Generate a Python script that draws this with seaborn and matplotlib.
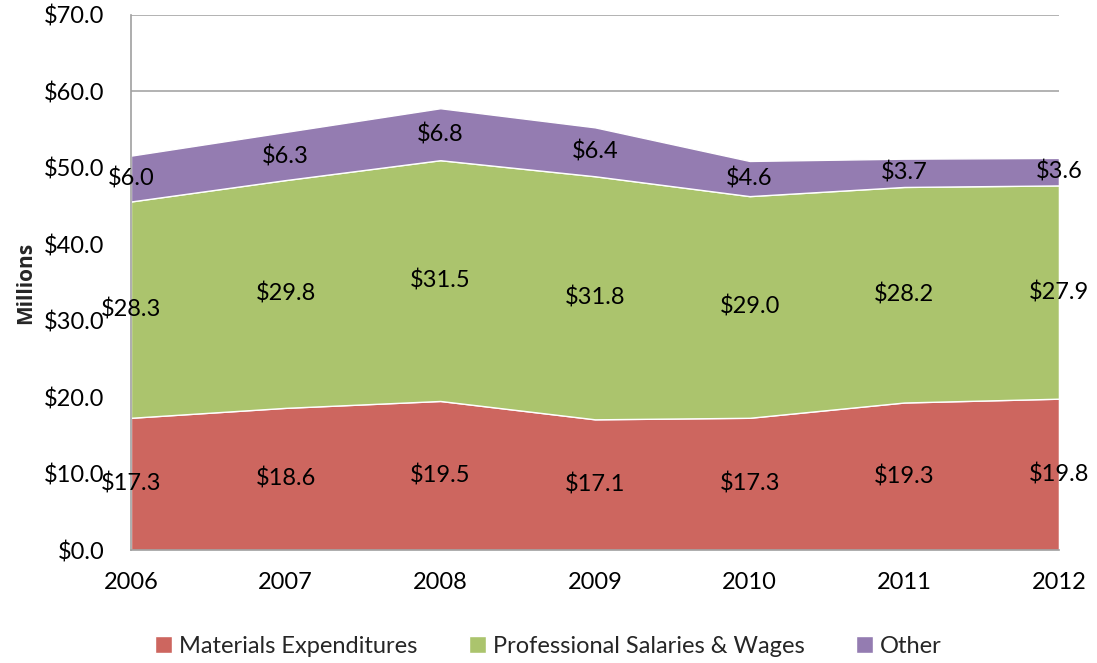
import numpy as np
import matplotlib
matplotlib.use("Agg")
import matplotlib.pyplot as plt
import seaborn as sns

# data (millions of dollars)
years = [2006, 2007, 2008, 2009, 2010, 2011, 2012]
series_names = ['Materials Expenditures', 'Professional Salaries & Wages', 'Other']
materials = [17.3, 18.6, 19.5, 17.1, 17.3, 19.3, 19.8]
salaries = [28.3, 29.8, 31.5, 31.8, 29.0, 28.2, 27.9]
other = [6.0, 6.3, 6.8, 6.4, 4.6, 3.7, 3.6]

colors = ['#CD665F', '#ABC46D', '#947CB1']

sns.set_theme(style="white")
plt.rcParams['font.family'] = ['Lato', 'DejaVu Sans']

fig = plt.figure(figsize=(10.97, 6.63), dpi=100)
ax = fig.add_axes([0.1194, 0.1704, 0.9653 - 0.1194, 0.9774 - 0.1704])

x = np.arange(len(years))
stacks = [materials, salaries, other]
ax.stackplot(x, *stacks, colors=colors, labels=series_names, zorder=2)

# data labels in the middle of each band
bottom = np.zeros(len(years))
for vals in stacks:
    vals = np.array(vals)
    for xi, b, v in zip(x, bottom, vals):
        ax.text(xi, b + v / 2, f'${v:.1f}', ha='center', va='center',
                fontsize=17, color='black', zorder=5)
    bottom = bottom + vals

ax.set_xlim(0, len(years) - 1)
ax.set_ylim(0, 70)
ax.set_xticks(x)
ax.set_xticklabels([str(y) for y in years])
ax.set_yticks(np.arange(0, 71, 10))
ax.set_yticklabels([f'${v:.1f}' for v in np.arange(0, 71, 10)])
ax.tick_params(axis='both', labelsize=17, colors='#A0A0A0', labelcolor='black',
               length=7, width=1.2, direction='out')
ax.tick_params(axis='y', pad=12)
ax.tick_params(axis='x', pad=9)
ax.yaxis.grid(True, color='#A6A6A6', linewidth=1.2, zorder=0)
ax.set_axisbelow(True)

for side in ['top', 'right']:
    ax.spines[side].set_visible(False)
for side in ['left', 'bottom']:
    ax.spines[side].set_color('#A0A0A0')
    ax.spines[side].set_linewidth(1.2)

ax.set_ylabel('Millions', fontsize=15, fontweight='bold', labelpad=6,
              family=['Open Sans', 'DejaVu Sans'])

handles, labels = ax.get_legend_handles_labels()
fig.legend(handles, labels, loc='center', bbox_to_anchor=(0.5, 0.025), ncol=3,
           frameon=False, fontsize=17, handlelength=0.7, handleheight=0.7,
           handletextpad=0.3, columnspacing=2.2)

fig.savefig('out.png', dpi=100)
